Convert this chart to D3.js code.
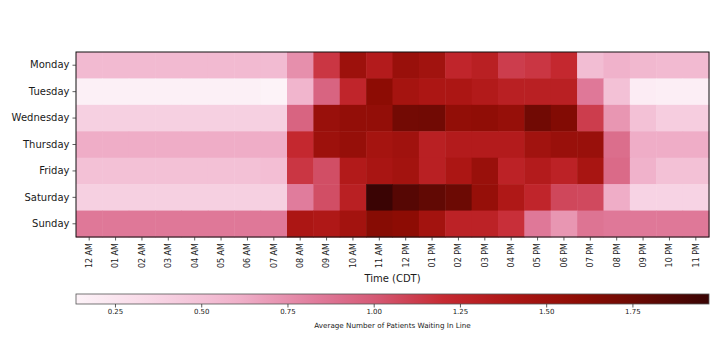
<!DOCTYPE html>
<html>
<head>
<meta charset="utf-8">
<script src="https://cdn.jsdelivr.net/npm/d3@7"></script>
<style>
  body { margin: 0; background: #fff; }
  text { font-family: "DejaVu Sans", sans-serif; fill: #1a1a1a; }
</style>
</head>
<body>
<svg width="721" height="361"></svg>
<script>
// Heatmap: avg patients waiting, by weekday and hour
const days = ["Monday", "Tuesday", "Wednesday", "Thursday", "Friday", "Saturday", "Sunday"];
const hours = ["12 AM", "01 AM", "02 AM", "03 AM", "04 AM", "05 AM", "06 AM", "07 AM",
               "08 AM", "09 AM", "10 AM", "11 AM", "12 PM", "01 PM", "02 PM", "03 PM",
               "04 PM", "05 PM", "06 PM", "07 PM", "08 PM", "09 PM", "10 PM", "11 PM"];

const monday    = [0.55, 0.55, 0.55, 0.55, 0.55, 0.55, 0.55, 0.54, 0.75, 1.15, 1.50, 1.35, 1.52, 1.47, 1.25, 1.30, 1.12, 1.15, 1.22, 0.53, 0.60, 0.56, 0.55, 0.55];
const tuesday   = [0.16, 0.16, 0.16, 0.16, 0.16, 0.16, 0.16, 0.14, 0.58, 0.95, 1.25, 1.60, 1.45, 1.40, 1.40, 1.36, 1.30, 1.30, 1.30, 0.85, 0.50, 0.19, 0.18, 0.18];
const wednesday = [0.40, 0.40, 0.40, 0.40, 0.40, 0.40, 0.40, 0.40, 0.95, 1.52, 1.56, 1.56, 1.72, 1.73, 1.57, 1.58, 1.54, 1.73, 1.65, 1.12, 0.72, 0.50, 0.42, 0.42];
const thursday  = [0.62, 0.62, 0.62, 0.62, 0.62, 0.62, 0.62, 0.62, 1.22, 1.50, 1.54, 1.45, 1.48, 1.30, 1.35, 1.35, 1.35, 1.47, 1.52, 1.52, 0.90, 0.62, 0.62, 0.62];
const friday    = [0.50, 0.50, 0.50, 0.50, 0.50, 0.50, 0.50, 0.52, 1.15, 1.05, 1.36, 1.42, 1.46, 1.30, 1.40, 1.52, 1.28, 1.35, 1.28, 1.43, 0.92, 0.60, 0.50, 0.50];
const saturday  = [0.40, 0.40, 0.40, 0.40, 0.40, 0.40, 0.40, 0.40, 0.83, 1.05, 1.30, 1.97, 1.85, 1.80, 1.75, 1.54, 1.38, 1.25, 1.08, 1.07, 0.62, 0.38, 0.38, 0.38];
const sunday    = [0.85, 0.85, 0.85, 0.85, 0.85, 0.85, 0.85, 0.85, 1.40, 1.38, 1.46, 1.63, 1.60, 1.46, 1.28, 1.28, 1.18, 0.85, 0.72, 0.87, 0.85, 0.85, 0.85, 0.85];

const cbarTicks = [0.25, 0.50, 0.75, 1.00, 1.25, 1.50, 1.75];

// colormap anchor points (white-pink -> red -> near black)
const cmapPos = [0, 0.116, 0.252, 0.378, 0.47, 0.58, 0.69, 0.80, 0.88, 1];
const cmapColors = ["#fdf3f8", "#f8d8e7", "#f0b2cb", "#e07c9c", "#d55a76",
                    "#c62a32", "#ac1614", "#8c0c04", "#6c0a04", "#3a0404"];

const rows = [monday, tuesday, wednesday, thursday, friday, saturday, sunday];
const cells = [];
rows.forEach((r, i) => r.forEach((v, j) => cells.push({day: days[i], hour: hours[j], value: v})));

const svg = d3.select("svg");
const margin = {top: 52, left: 76, right: 12};
const innerwidth = 633;
const innerheight = 185;

const vmin = 0.137, vmax = 1.972;
const color = d3.scaleLinear()
    .domain(cmapPos.map(p => vmin + p * (vmax - vmin)))
    .range(cmapColors)
    .interpolate(d3.interpolateRgb)
    .clamp(true);

const xScale = d3.scaleBand().domain(hours).range([0, innerwidth]);
const yScale = d3.scaleBand().domain(days).range([0, innerheight]);

const g = svg.append("g")
    .attr("transform", `translate(${margin.left}, ${margin.top})`);

g.selectAll("rect.cell").data(cells)
  .enter().append("rect")
    .attr("class", "cell")
    .attr("x", d => xScale(d.hour))
    .attr("y", d => yScale(d.day))
    .attr("width", xScale.bandwidth() + 0.5)
    .attr("height", yScale.bandwidth() + 0.5)
    .attr("fill", d => color(d.value));

g.append("rect")
    .attr("width", innerwidth)
    .attr("height", innerheight)
    .attr("fill", "none")
    .attr("stroke", "#111")
    .attr("stroke-width", 1);

const yAxisG = g.append("g").call(d3.axisLeft(yScale).tickSize(3.5).tickPadding(3));
yAxisG.select(".domain").remove();
yAxisG.selectAll(".tick line").attr("stroke", "#333").attr("stroke-width", 0.8);
yAxisG.selectAll(".tick text").attr("font-size", 10).attr("fill", "#1a1a1a");

const xAxisG = g.append("g")
    .attr("transform", `translate(0, ${innerheight})`)
    .call(d3.axisBottom(xScale).tickSize(3.5).tickPadding(3));
xAxisG.select(".domain").remove();
xAxisG.selectAll(".tick line").attr("stroke", "#333").attr("stroke-width", 0.8);
xAxisG.selectAll(".tick text")
    .attr("font-size", 8)
    .attr("fill", "#1a1a1a")
    .attr("transform", "rotate(-90)")
    .attr("text-anchor", "end")
    .attr("x", -6)
    .attr("y", 0)
    .attr("dy", "0.35em");

g.append("text")
    .attr("x", innerwidth / 2)
    .attr("y", 230)
    .attr("text-anchor", "middle")
    .attr("font-size", 10)
    .text("Time (CDT)");

// colorbar
const cbY = 294, cbH = 10;
const cbScale = d3.scaleLinear().domain([vmin, vmax]).range([0, innerwidth]);

const grad = svg.append("defs").append("linearGradient")
    .attr("id", "cbgrad")
    .attr("x1", "0%").attr("x2", "100%").attr("y1", "0%").attr("y2", "0%");
grad.selectAll("stop").data(d3.range(0, 1.0001, 0.02))
  .enter().append("stop")
    .attr("offset", d => `${d * 100}%`)
    .attr("stop-color", d => color(vmin + d * (vmax - vmin)));

const cb = svg.append("g").attr("transform", `translate(${margin.left}, ${cbY})`);
cb.append("rect")
    .attr("width", innerwidth)
    .attr("height", cbH)
    .attr("fill", "url(#cbgrad)")
    .attr("stroke", "#555")
    .attr("stroke-width", 0.8);

const cbAxis = cb.append("g")
    .attr("transform", `translate(0, ${cbH})`)
    .call(d3.axisBottom(cbScale).tickValues(cbarTicks).tickFormat(d3.format(".2f")).tickSize(3.5).tickPadding(2));
cbAxis.select(".domain").remove();
cbAxis.selectAll(".tick line").attr("stroke", "#333").attr("stroke-width", 0.8);
cbAxis.selectAll(".tick text").attr("font-size", 7).attr("fill", "#1a1a1a");

cb.append("text")
    .attr("x", innerwidth / 2)
    .attr("y", 34)
    .attr("text-anchor", "middle")
    .attr("font-size", 7.2)
    .text("Average Number of Patients Waiting In Line");
</script>
</body>
</html>
